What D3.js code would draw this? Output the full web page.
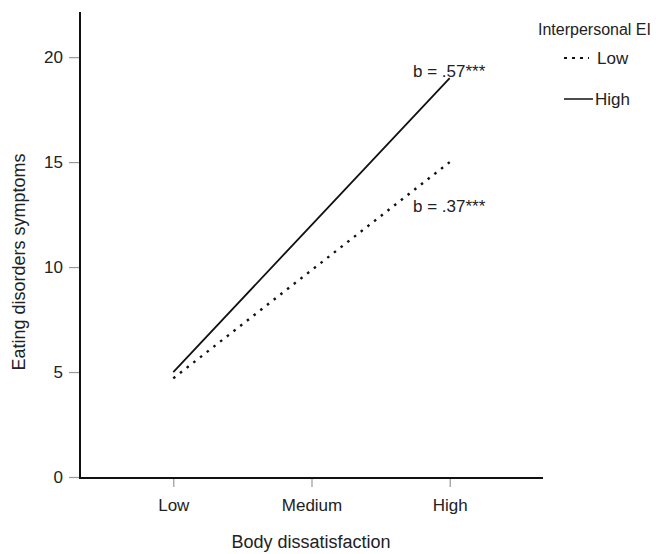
<!DOCTYPE html>
<html lang="en">
<head>
  <meta charset="UTF-8">
  <title>Interpersonal EI moderation</title>
  <style>
    body { margin: 0; background: #fff; }
    svg { display: block; font-family: "Liberation Sans", Arial, sans-serif; }
    text { fill: #222; }
    .tick line { stroke: #999; stroke-width: 1.2; }
    .domain { display: none; }
  </style>
</head>
<body>
  <svg></svg>
</body>
<script src="https://d3js.org/d3.v7.min.js"></script>
<script>

  let categories = ['Low', 'Medium', 'High'];
  let lowEI = [4.7, 9.85, 15.0];
  let highEI = [5.0, 12.0, 19.0];
  let yTicks = [0, 5, 10, 15, 20];
  let seriesNames = ['Low', 'High'];
  let slopeLabels = ['b = .37***', 'b = .57***'];

  let width = 656,
    height = 554;

  let svg = d3.select('svg')
    .attr('width', width)
    .attr('height', height);

  let x = d3.scalePoint()
    .domain(categories)
    .range([80, 543])
    .padding(0.675);

  let y = d3.scaleLinear()
    .domain([0, 22.15])
    .range([477, 12]);

  // y axis
  svg.append('g')
    .attr('transform', 'translate(79,0)')
    .call(d3.axisLeft(y).tickValues(yTicks).tickSize(10).tickPadding(6))
    .selectAll('text')
    .style('font-size', '17px')
    .style('font-family', 'inherit');

  // x axis
  svg.append('g')
    .attr('transform', 'translate(0,479)')
    .call(d3.axisBottom(x).tickSize(8).tickPadding(12))
    .selectAll('text')
    .style('font-size', '17px')
    .style('font-family', 'inherit');

  svg.append('line')
    .attr('x1', 80).attr('x2', 80)
    .attr('y1', y.range()[1]).attr('y2', 478)
    .attr('stroke', '#111').attr('stroke-width', 2);

  svg.append('line')
    .attr('x1', 79).attr('x2', 543)
    .attr('y1', 478).attr('y2', 478)
    .attr('stroke', '#111').attr('stroke-width', 2);

  let line = d3.line()
    .x((d, i) => x(categories[i]))
    .y(d => y(d));

  svg.append('path')
    .datum(lowEI)
    .attr('d', line)
    .attr('fill', 'none')
    .attr('stroke', '#111')
    .attr('stroke-width', 2.4)
    .attr('stroke-dasharray', '2.5,6');

  svg.append('path')
    .datum(highEI)
    .attr('d', line)
    .attr('fill', 'none')
    .attr('stroke', '#111')
    .attr('stroke-width', 1.8);

  // slope labels
  svg.append('text')
    .attr('x', 413)
    .attr('y', 77)
    .style('font-size', '17px')
    .text(slopeLabels[1]);

  svg.append('text')
    .attr('x', 413)
    .attr('y', 212)
    .style('font-size', '17px')
    .text(slopeLabels[0]);

  // axis titles
  svg.append('text')
    .attr('transform', 'translate(25,262) rotate(-90)')
    .attr('text-anchor', 'middle')
    .style('font-size', '18px')
    .text('Eating disorders symptoms');

  svg.append('text')
    .attr('x', 311)
    .attr('y', 548)
    .attr('text-anchor', 'middle')
    .style('font-size', '18px')
    .text('Body dissatisfaction');

  // legend
  svg.append('text')
    .attr('x', 538)
    .attr('y', 35)
    .style('font-size', '16px')
    .text('Interpersonal EI');

  let legend = svg.selectAll('.legend-item')
    .data(seriesNames)
    .enter()
    .append('g')
    .attr('class', 'legend-item')
    .attr('transform', (d, i) => `translate(564,${58 + i * 41})`);

  legend.append('line')
    .attr('x1', 0).attr('x2', d => d === 'Low' ? 25 : 29)
    .attr('stroke', '#111')
    .attr('stroke-width', d => d === 'Low' ? 2.2 : 1.5)
    .attr('stroke-dasharray', d => d === 'Low' ? '3,5' : null);

  legend.append('text')
    .attr('x', d => d === 'Low' ? 33 : 31)
    .attr('y', 6)
    .style('font-size', '17px')
    .text(d => d);

</script>
</html>
